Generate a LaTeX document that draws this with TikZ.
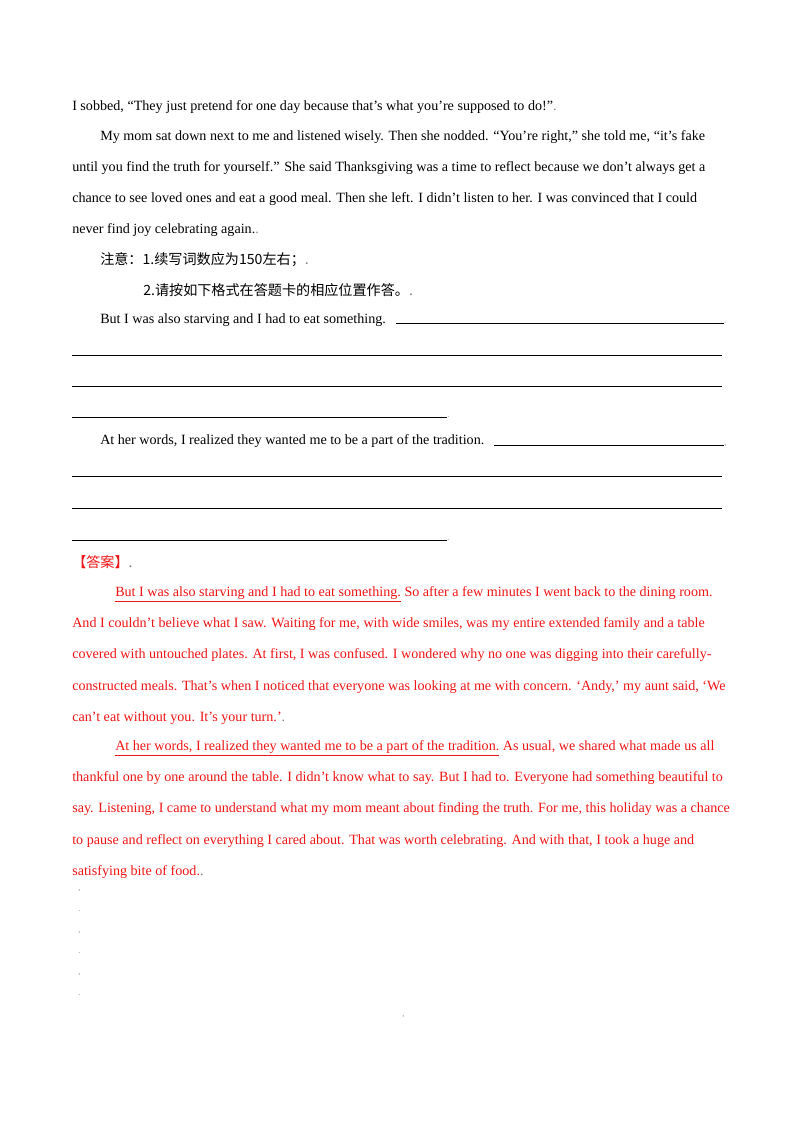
\documentclass[tikz,border=0pt]{standalone}
\usepackage{fontspec}
\setmainfont{Liberation Serif}
\newfontfamily\cjk{Noto Sans CJK SC}
\definecolor{ans}{RGB}{240,20,20}
\begin{document}
\begin{tikzpicture}[x=0.744pt,y=-0.744pt,
  tl/.style={anchor=base west,inner sep=0pt,font=\fontsize{10.5pt}{12pt}\selectfont},
  al/.style={tl,text=ans},
  mk/.style={anchor=base west,inner sep=0pt,font=\fontsize{6pt}{7pt}\selectfont,text=gray},
  ul/.style={line width=0.5pt}]
\useasboundingbox (0,0) rectangle (800,1132);
\node[tl] (l1) at (72,110) {I sobbed, “They just pretend for one day because that’s what you’re supposed to do!"\textcolor{gray}{.}};
\node[tl] (l2) at (100,140) {My mom sat down next to me and listened wisely. Then she nodded. “You’re right,” she told me, “it’s fake};
\node[tl] (l3) at (72,171) {until you find the truth for yourself.” She said Thanksgiving was a time to reflect because we don’t always get a};
\node[tl] (l4) at (72,202) {chance to see loved ones and eat a good meal. Then she left. I didn’t listen to her. I was convinced that I could};
\node[tl] (l5) at (72,233) {never find joy celebrating again.\textcolor{gray}{.}};
\node[tl] (n1) at (100,264) {\cjk 注意：1.续写词数应为150左右；\textcolor{gray}{.}};
\node[tl] (n2) at (143,295) {\cjk 2.请按如下格式在答题卡的相应位置作答。\textcolor{gray}{.}};
\node[tl] (p1) at (100,323) {But I was also starving and I had to eat something.};
\draw[ul] (396,323) -- (724,323) node[mk,anchor=base west]{.};
\draw[ul] (72,355) -- (722,355);
\draw[ul] (72,386) -- (722,386);
\draw[ul] (72,417) -- (447,417) node[mk,anchor=base west]{.};
\node[tl] (p2) at (100,444) {At her words, I realized they wanted me to be a part of the tradition.};
\draw[ul] (494,445) -- (724,445) node[mk,anchor=base west]{,};
\draw[ul] (72,476) -- (722,476);
\draw[ul] (72,508) -- (722,508);
\draw[ul] (72,540) -- (447,540) node[mk,anchor=base west]{.};
\node[al] (ans) at (72,567) {\cjk 【答案】\textcolor{gray}{.}};
\node[al] (a1) at (115,596) {\underline{But I was also starving and I had to eat something.} So after a few minutes I went back to the dining room.};
\node[al] (a2) at (72,627) {And I couldn’t believe what I saw. Waiting for me, with wide smiles, was my entire extended family and a table};
\node[al] (a3) at (72,658) {covered with untouched plates. At first, I was confused. I wondered why no one was digging into their carefully-};
\node[al] (a4) at (72,690) {constructed meals. That’s when I noticed that everyone was looking at me with concern. ‘Andy,’ my aunt said, ‘We};
\node[al] (a5) at (72,721) {can’t eat without you. It’s your turn.’\textcolor{gray}{.}};
\node[al] (b1) at (115,750) {\underline{At her words, I realized they wanted me to be a part of the tradition.} As usual, we shared what made us all};
\node[al] (b2) at (72,781) {thankful one by one around the table. I didn’t know what to say. But I had to. Everyone had something beautiful to};
\node[al] (b3) at (72,812) {say. Listening, I came to understand what my mom meant about finding the truth. For me, this holiday was a chance};
\node[al] (b4) at (72,844) {to pause and reflect on everything I cared about. That was worth celebrating. And with that, I took a huge and};
\node[al] (b5) at (72,875) {satisfying bite of food.\textcolor{gray}{.}};
\foreach \y/\c in {890/{,},911/{.},932/{,},953/{.},974/{,},995/{.}}
  \node[mk] at (78,\y) {\c};
\node[mk] (m7) at (402,1016) {,};
\end{tikzpicture}
\end{document}
